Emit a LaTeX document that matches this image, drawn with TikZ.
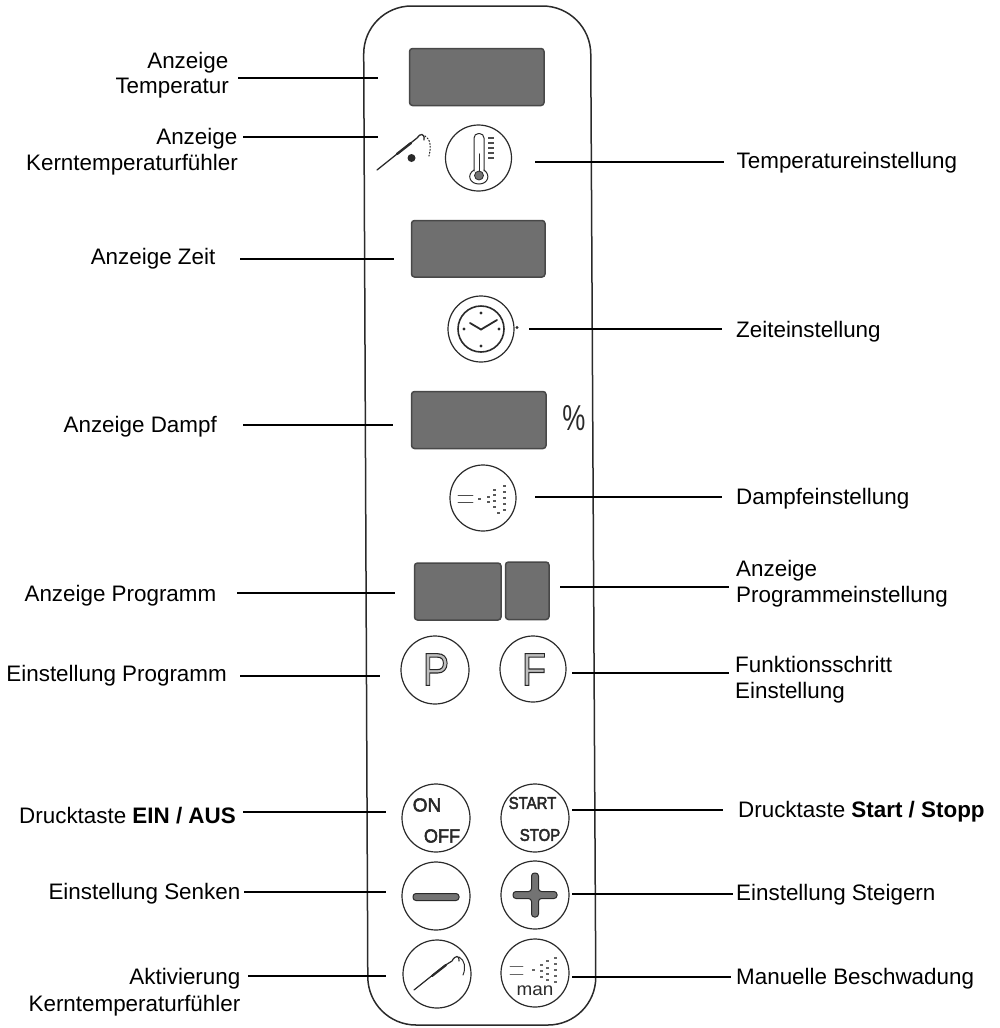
\documentclass[tikz,border=0pt]{standalone}
\usepackage{fontspec}
\setmainfont{Liberation Sans}
\newcommand{\lblsize}{\fontsize{22.4}{26}\selectfont}
\newcommand{\hollowtxt}[1]{\special{pdf:code 2 Tr 1.1 w 0.15 G}#1\special{pdf:code 0 Tr}}
\newcommand{\heavytxt}[1]{\special{pdf:code 2 Tr 0.5 w 0.15 G}#1\special{pdf:code 0 Tr}}
\definecolor{lcd}{HTML}{6F6F6F}
\definecolor{lcdedge}{HTML}{484848}
\definecolor{ink}{HTML}{2A2A2A}
\tikzset{
  lbl/.style={font=\lblsize,text=black,inner sep=0pt,align=right,anchor=base east},
  lblL/.style={font=\lblsize,text=black,inner sep=0pt,align=left,anchor=base west},
  leader/.style={draw=black,line width=1.2pt},
  lcdbox/.style={fill=lcd,draw=lcdedge,line width=1.5pt,rounded corners=3pt},
  btn/.style={draw=ink,line width=1.2pt,circle,minimum size=66pt,inner sep=0pt},
  panel/.style={draw=ink,line width=1.5pt,rounded corners=48pt},
  icon/.style={draw=ink,line width=1pt,line cap=round},
  btntxt/.style={text=ink,inner sep=0pt},
  spot/.style={fill=ink,draw=none,circle,inner sep=0pt}
}
\begin{document}
\begin{tikzpicture}[x=1pt,y=-1pt]
\useasboundingbox (0,0) rectangle (1000,1028);
% panel
\draw[panel] (363.5,6) -- (590.5,6) -- (596,1025) -- (368,1025) -- cycle;
% displays
\draw[lcdbox] (409.5,48.5) rectangle (544,105.5);
\draw[lcdbox] (411.5,220.5) rectangle (545,277);
\draw[lcdbox] (411.5,391.5) rectangle (546,448.5);
\draw[lcdbox] (414.5,563) rectangle (501,620);
\draw[lcdbox] (505.5,562) rectangle (549,619.5);
\node[font=\fontsize{36}{36}\selectfont,xscale=.72,text=ink,inner sep=0pt] (pct) at (574,418) {\%};
% buttons
\node[btn] (bTherm) at (478.5,158) {};
\node[btn] (bClock) at (481,329) {};
\node[btn] (bSteam) at (483,498) {};
\node[btn,minimum size=68pt] (bP) at (435,670) {};
\node[btn] (bF) at (533,669) {};
\node[btn,minimum size=68pt] (bOn) at (436,818) {};
\node[btn,minimum size=68pt] (bStart) at (535,818) {};
\node[btn,minimum size=68pt] (bMinus) at (436,896) {};
\node[btn,minimum size=68pt] (bPlus) at (535,895) {};
\node[btn,minimum size=68pt] (bProbe) at (437,974) {};
\node[btn,minimum size=68pt] (bMan) at (535,973) {};
% button captions
\node[btntxt,xscale=.86,font=\fontsize{46}{46}\selectfont] (tP) at (436,669.5) {\color{black!25}\hollowtxt{P}};
\node[btntxt,xscale=.86,font=\fontsize{46}{46}\selectfont] (tF) at (534,669.5) {\color{black!25}\hollowtxt{F}};
\node[btntxt,font=\fontsize{19}{19}\selectfont] (tOn) at (427,805) {\heavytxt{ON}};
\node[btntxt,font=\fontsize{19}{19}\selectfont,xscale=.95] (tOff) at (442,836) {\heavytxt{OFF}};
\node[btntxt,font=\fontsize{17}{17}\selectfont,xscale=.88] (tStart) at (532.5,803) {\heavytxt{START}};
\node[btntxt,font=\fontsize{17}{17}\selectfont,xscale=.88] (tStop) at (540,835) {\heavytxt{STOP}};
\node[btntxt,font=\fontsize{18}{18}\selectfont,xscale=1.05] (tMan) at (535,990.5) {man};
% small probe icon
\draw[icon,line width=1.3pt] (377,170) -- (412,142) -- (417,138) .. controls (420,133) and (425,133) .. (424,140);
\draw[icon,line width=2.4pt] (397,154) -- (411,143);
\draw[icon,dotted,line width=1.1pt] (425,136) .. controls (431,139) and (431,148) .. (429,156);
\node[spot,minimum size=8pt] (sDot) at (411.5,158) {};
% thermometer
\draw[icon,rounded corners=4.5pt] (474,171) -- (474,133.5) -- (484,133.5) -- (484,171);
\draw[icon] (474,170) .. controls (466,175) and (470,184) .. (479,184) .. controls (488,184) and (491,175) .. (484,170);
\draw[fill=black!55,draw=ink,line width=.8pt] (479,175.5) circle[radius=4.5];
\draw[icon,line width=1.3pt] (479.5,154) -- (479.5,171);
\foreach \ty in {138,143,148,153,158}{\draw[icon,line width=1.5pt,line cap=butt,draw=black!70] (488,\ty) -- (493.5,\ty);}
% clock
\draw[draw=ink,line width=1.6pt] (481,329) circle[radius=23];
\draw[icon,line width=1.8pt] (470,323) -- (481,329.5) -- (497,320);
\foreach \cx/\cy in {481/313,481/346,464/329,499/329,517/327.5}{\fill[ink] (\cx,\cy) circle[radius=1.6];}
% steam
\draw[icon,line width=.9pt,draw=black!70] (458,495.5) -- (473,495.5) (458,502) -- (473,502);
\foreach \sx/\sy in {478/498,487/496,487/501,493/489,493/494,493/500,493/506,503/485,503/491,503/497,503/503,503/509,497/512}{\fill[black!65] (\sx,\sy) rectangle ++(3,1.6);}
% minus, plus
\draw[fill=black!55,draw=ink,line width=1pt,rounded corners=3pt] (413,893.5) rectangle (459,900.5);
\draw[fill=black!55,draw=ink,line width=1pt,rounded corners=3pt]
  (513,891.5) -- (531.5,891.5) -- (531.5,873) -- (538.5,873) -- (538.5,891.5) -- (557,891.5) -- (557,898.5) -- (538.5,898.5) -- (538.5,917) -- (531.5,917) -- (531.5,898.5) -- (513,898.5) -- cycle;
% large probe
\draw[icon,line width=1.2pt] (414,990) -- (444,966) -- (452,961) .. controls (455,955) and (460,955) .. (459,961);
\draw[icon,line width=2.2pt] (432,976) -- (446,965);
\draw[icon,line width=1pt] (459,957) .. controls (465,960) and (466,968) .. (463,975);
% man spray
\draw[icon,line width=.8pt,draw=black!60] (510,966.5) -- (523,966.5) (510,974.5) -- (523,974.5);
\foreach \sx/\sy in {532/969,540/964,540/970,540/976,546/960,546/967,546/973,546/979,554/957,554/963,554/969,554/975,554/981}{\fill[black!60] (\sx,\sy) rectangle ++(3,1.6);}
% left labels
\node[lbl] (l1a) at (228.5,68) {Anzeige};
\node[lbl] (l1b) at (229,93) {Temperatur};
\node[lbl] (l2a) at (237.5,144) {Anzeige};
\node[lbl] (l2b) at (238,170) {Kerntemperaturfühler};
\node[lbl] (l3) at (215.5,264) {Anzeige Zeit};
\node[lbl] (l4) at (217,432) {Anzeige Dampf};
\node[lbl] (l5) at (216.5,601) {Anzeige Programm};
\node[lbl] (l6) at (227,681) {Einstellung Programm};
\node[lbl] (l7) at (236,823) {Drucktaste \textbf{EIN / AUS}};
\node[lbl] (l8) at (240.5,899) {Einstellung Senken};
\node[lbl] (l9a) at (240.5,984) {Aktivierung};
\node[lbl] (l9b) at (240.5,1011) {Kerntemperaturfühler};
% right labels
\node[lblL] (r1) at (736.5,168) {Temperatureinstellung};
\node[lblL] (r2) at (736,337) {Zeiteinstellung};
\node[lblL] (r3) at (736,504) {Dampfeinstellung};
\node[lblL] (r4a) at (736,576) {Anzeige};
\node[lblL] (r4b) at (736,602) {Programmeinstellung};
\node[lblL] (r5a) at (735,672) {Funktionsschritt};
\node[lblL] (r5b) at (735,698) {Einstellung};
\node[lblL] (r6) at (738,817) {Drucktaste \textbf{Start / Stopp}};
\node[lblL] (r7) at (736,900) {Einstellung Steigern};
\node[lblL] (r8) at (736,984) {Manuelle Beschwadung};
% leader ends
\foreach \n/\ax/\bx/\yy in {la/238/378/78,lb/243/378/137,lc/240/394/259,ld/243/393/425,le/237/395/593,lf/240/380/676,lg/243/386/812,lh/244/386/892,li/248/386/976,
  ra/535/724/162,rb/529/722/329,rc/535/722/497,rd/560/729/587,re/572/729/673,rf/572/723/810,rg/572/733/894,rh/572/731/977}{
  \coordinate (\n1) at (\ax,\yy);
  \coordinate (\n2) at (\bx,\yy);
  \draw[leader] (\n1) -- (\n2);
}
\end{tikzpicture}
\end{document}
